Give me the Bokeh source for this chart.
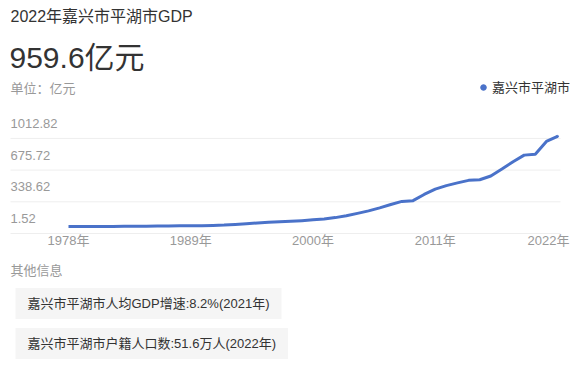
from bokeh.plotting import figure
from bokeh.models import (Label, Range1d, Legend, LegendItem, ColumnDataSource)
from bokeh.core.properties import value
from bokeh.embed import file_html
from bokeh.resources import INLINE

# ---------------- data ----------------
years = list(range(1978, 2023))
gdp = [1.52, 1.8, 2.1, 2.4, 2.8, 3.1, 3.9, 5.1, 5.9, 7.2,
       9.1, 9.9, 10.8, 12.5, 16.4, 23.5, 31.2, 39.8, 45.6, 51.3,
       56.1, 63.2, 72.5, 82.3, 96.1, 115.6, 141.2, 167.4, 199.7, 235.6,
       268.3, 276.1, 342.5, 399.2, 436.6, 465.1, 492.3, 498.7, 538.2, 612.4,
       690.8, 760.5, 770.3, 906.2, 959.6]
y_ticks = [1.52, 338.62, 675.72, 1012.82]
y_tick_labels = ["1.52", "338.62", "675.72", "1012.82"]
x_ticks = [1978, 1989, 2000, 2011, 2022]
x_tick_labels = ["1978年", "1989年", "2000年", "2011年", "2022年"]
series_name = "嘉兴市平湖市"
title_text = "2022年嘉兴市平湖市GDP"
big_value = "959.6亿元"
unit_text = "单位：亿元"
other_title = "其他信息"
info_items = ["嘉兴市平湖市人均GDP增速:8.2%(2021年)",
              "嘉兴市平湖市户籍人口数:51.6万人(2022年)"]

FONT = "Liberation Sans, Noto Sans CJK SC"
BLUE = "#4A72C9"

W, H = 583, 368
# scales: pixels per year and value units per pixel
PX_PER_YEAR = 11.114
UNITS_PER_PX = 10.634
x0 = x_ticks[0] - 68 / PX_PER_YEAR
y0 = y_ticks[0] - (H - 226) * UNITS_PER_PX
p = figure(width=W, height=H, output_backend="svg", toolbar_location=None,
           x_range=Range1d(x0, x0 + W / PX_PER_YEAR),
           y_range=Range1d(y0, y0 + H * UNITS_PER_PX),
           x_axis_location=None, y_axis_location=None,
           min_border=0)
p.outline_line_color = None
p.xgrid.visible = False
p.ygrid.visible = False

# gridlines (drawn slightly below the value levels, as in the reference)
grid_shift = 7 * UNITS_PER_PX
gx0 = x0 + 10 / PX_PER_YEAR
gx1 = x0 + 560 / PX_PER_YEAR
p.segment(x0=[gx0] * len(y_ticks), x1=[gx1] * len(y_ticks),
          y0=[t - grid_shift for t in y_ticks], y1=[t - grid_shift for t in y_ticks],
          line_color="#eeeeee", line_width=1)

src = ColumnDataSource(dict(x=years, y=gdp))
p.line("x", "y", source=src, line_color=BLUE, line_width=3, line_join="round")

# y tick labels
p.text(x=[gx0] * len(y_ticks), y=y_ticks, text=y_tick_labels,
       text_align="left", text_baseline="middle", y_offset=-8,
       text_font=value(FONT), text_font_size="13px", text_color="#999999")
# x tick labels (last one nudged inward so it stays inside the chart)
p.text(x=x_ticks, y=[y_ticks[0]] * len(x_ticks), text=x_tick_labels,
       text_align="center", text_baseline="middle", y_offset=14,
       x_offset=[0] * (len(x_ticks) - 1) + [-9],
       text_font=value(FONT), text_font_size="13px", text_color="#999999")

# legend (marker renderer only used for the legend icon; hidden under line end)
dot = p.scatter(x=years[-1:], y=gdp[-1:], marker="circle", size=2,
                fill_color=BLUE, line_color=BLUE)
leg = Legend(items=[LegendItem(label=series_name, renderers=[dot])],
             location=(476, H - 96), orientation="horizontal",
             glyph_width=14, glyph_height=14, label_standoff=2, padding=0,
             margin=0, border_line_color=None, background_fill_alpha=0,
             label_text_font=FONT, label_text_font_size="13px",
             label_text_color="#333333", label_height=14)
p.add_layout(leg, "center")

def lab(text, x, y, size, color, **kw):
    p.add_layout(Label(x=x, y=H - y, x_units="screen", y_units="screen", text=text,
                       text_font=FONT, text_font_size=size, text_color=color,
                       text_baseline="middle", text_align="left", **kw))

lab(title_text, 10, 16, "16px", "#333333")
lab(big_value, 9, 57, "30px", "#333333")
lab(unit_text, 10, 88, "13px", "#999999")
lab(other_title, 10, 270, "13px", "#999999")
for i, t in enumerate(info_items):
    lab(t, 15, 303 + 40 * i, "13px", "#333333",
        background_fill_color="#f5f5f5",
        padding=dict(left=12, right=12, top=8, bottom=8))

open("out.html", "w").write(file_html(p, INLINE))
